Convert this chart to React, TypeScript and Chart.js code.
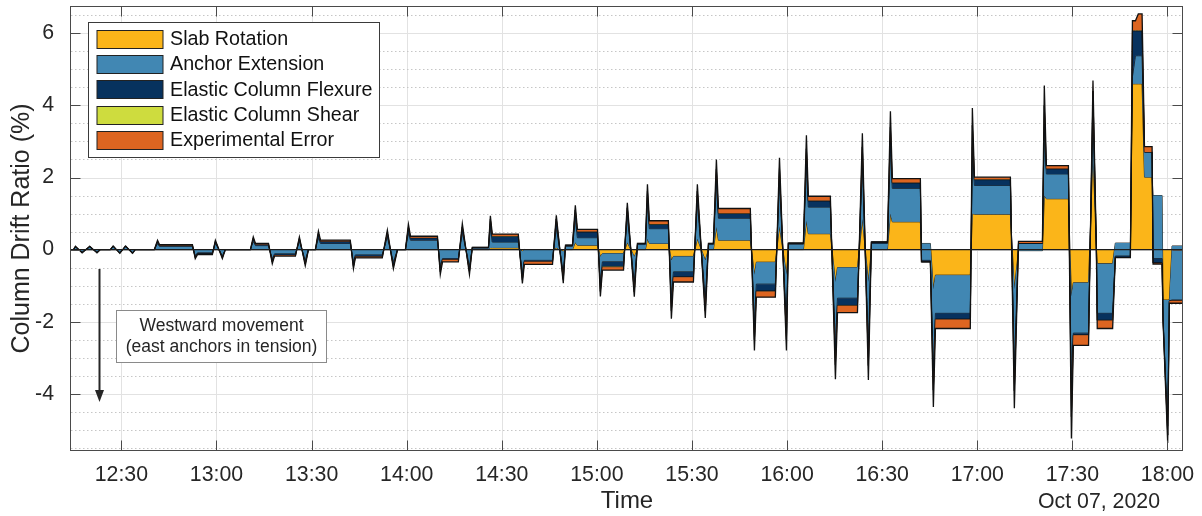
import React, { useEffect, useRef } from 'react';
import { Chart, registerables } from 'chart.js';

Chart.register(...registerables);

const FONT = '"Liberation Sans", Arial, Helvetica, sans-serif';
const TEXT = '#262626';

// ---- series names / colours (bottom to top of the stack) ----
const seriesNames = ['Slab Rotation', 'Anchor Extension', 'Elastic Column Flexure', 'Elastic Column Shear', 'Experimental Error'];
const seriesColors = ['#FBB519', '#4187B3', '#07325E', '#CEDC3E', '#DD6521'];

// ---- axes ----
const xTickLabels = ['12:30', '13:00', '13:30', '14:00', '14:30', '15:00', '15:30', '16:00', '16:30', '17:00', '17:30', '18:00'];
const yTickValues = [-4, -2, 0, 2, 4, 6];
const yMinorValues = [-5.5, -5, -4.5, -3.5, -3, -2.5, -1.5, -1, -0.5, 0.5, 1, 1.5, 2.5, 3, 3.5, 4.5, 5, 5.5, 6.5];
const xRange = [14.1, 364.9]; // minutes after 12:00
const yRange = [-5.59, 6.76];
const dateLabel = 'Oct 07, 2020';
const xTitle = 'Time';
const yTitle = 'Column Drift Ratio (%)';
const noteLines = ['Westward movement', '(east anchors in tension)'];

// ---- data: time in minutes after 12:00, contributions in % drift ----
const times = [
  14.1, 14.9, 15.5, 17.6, 20.0, 22.3, 23.4, 26.5, 27.4, 29.5, 31.3, 33.5, 34.4,
  40.4, 41.4, 42.0, 52.4, 53.3, 54.0, 58.7, 59.65, 61.85, 62.8,
  70.7, 71.6, 72.3, 76.4, 77.6, 78.3, 84.9, 86.15, 88.0, 89.0,
  91.2, 92.15, 92.8, 102.2, 103.2, 103.8, 112.3, 113.9, 115.8, 117.1,
  119.6, 120.55, 121.2, 129.7, 130.6, 131.3, 136.3, 137.55, 139.8, 140.7, 145.8,
  146.4, 147.0, 155.2, 156.5, 157.1, 166.0, 167.2, 169.4, 170.1, 172.3,
  173.2, 173.85, 180.2, 181.1, 181.75, 188.4, 189.6, 191.8, 192.8, 195.3,
  195.95, 196.55, 202.55, 203.5, 204.15, 210.45, 211.7, 214.2, 215.2, 216.75,
  217.7, 218.35, 228.4, 229.7, 230.3, 236.3, 237.6, 239.8, 240.4, 245.15,
  246.1, 246.7, 253.65, 255.25, 255.9, 262.2, 263.75, 265.65, 266.6, 271.65,
  272.6, 273.2, 282.05, 282.4, 285.2, 286.15, 286.8, 297.8, 298.45, 299.1, 310.45, 311.7, 313.0, 320.55,
  321.15, 321.8, 328.75, 329.7, 330.3, 335.1, 336.5, 337.55, 337.85, 342.7, 343.55, 348.3,
  348.95, 349.9, 350.8, 351.99, 352.75, 355.15, 355.45, 358.3, 358.6, 360.07, 360.6, 361.45, 365.65,
];

const slabRotation = [
  0, 0, 0, 0, 0, 0, 0, 0, 0, 0, 0, 0, 0,
  0, 0, 0, 0, 0, 0, 0, 0, 0, 0,
  0, 0, 0, 0, 0, 0, 0, 0, 0, 0,
  0, 0, 0, 0, 0, 0, 0, 0, 0, 0,
  0, 0, 0, 0, 0, 0, 0, 0, 0, 0, 0,
  0.05, 0.05, 0.05, -0.05, 0, 0, 0.05, -0.05, 0, 0,
  0.20, 0.12, 0.12, -0.20, -0.11, -0.11, 0.20, -0.20, 0, 0,
  0.30, 0.17, 0.17, -0.30, -0.19, -0.19, 0.30, -0.30, 0, 0,
  0.63, 0.26, 0.26, -0.70, -0.35, -0.35, 0.65, -0.70, 0, 0,
  0.80, 0.44, 0.44, -0.90, -0.50, -0.50, 0.85, -0.90, 0, 0,
  1.00, 0.77, 0.77, 0.17, 0.17, -1.10, -0.71, -0.71, 1.00, 0.98, 0.98, -1.10, -0.03, -0.03,
  1.50, 1.41, 1.41, -1.30, -0.92, -0.92, 2.70, 0.10, -0.39, -0.39, 0.18, 0.18,
  4.60, 4.60, 4.60, 4.60, 2.01, 2.01, 1.50, 1.50, -1.40, -1.40, -1.40, 0.10, 0.10,
];

const anchorExtension = [
  0, 0, 0.07, -0.07, 0.07, -0.07, 0, 0, 0.08, -0.08, 0.08, -0.08, 0,
  0, 0.17, 0.09, 0.09, -0.17, -0.09, -0.09, 0.17, -0.17, 0,
  0, 0.23, 0.11, 0.11, -0.26, -0.12, -0.12, 0.23, -0.30, 0,
  0, 0.33, 0.17, 0.17, -0.35, -0.15, -0.15, 0.35, -0.35, 0,
  0, 0.46, 0.26, 0.26, -0.46, -0.25, -0.25, 0.47, -0.46, 0.04, 0.04,
  0.55, 0.16, 0.16, -0.60, -0.30, -0.30, 0.56, -0.60, 0.09, 0.09,
  0.65, 0.21, 0.21, -0.70, -0.23, -0.23, 0.70, -0.70, 0.14, 0.14,
  1.00, 0.41, 0.41, -1.05, -0.43, -0.43, 1.00, -1.05, 0.14, 0.14,
  1.20, 0.61, 0.61, -1.35, -0.61, -0.61, 1.22, -1.35, 0.15, 0.15,
  1.50, 0.74, 0.74, -1.75, -0.85, -0.85, 1.50, -1.77, 0.17, 0.17,
  1.80, 0.93, 0.93, -0.47, -0.47, -2.20, -1.06, -1.06, 1.85, 0.80, 0.80, -2.20, 0.20, 0.20,
  1.90, 0.69, 0.69, -2.60, -1.40, -1.40, 1.30, 0, -1.38, -1.38, -0.36, -0.36,
  0.20, 0.78, 0.78, 0.78, 0.70, 0.70, -1.75, -1.75, -0.50, -3.50, -0.02, -1.50, -1.50,
];

const columnFlexure = [
  0, 0, 0.02, -0.02, 0.02, -0.02, 0, 0, 0.02, -0.02, 0.02, -0.02, 0,
  0, 0.06, 0.03, 0.03, -0.05, -0.03, -0.03, 0.06, -0.05, 0,
  0, 0.08, 0.04, 0.04, -0.08, -0.04, -0.04, 0.08, -0.10, 0,
  0, 0.12, 0.06, 0.06, -0.12, -0.05, -0.05, 0.12, -0.12, 0,
  0, 0.16, 0.07, 0.07, -0.15, -0.03, -0.03, 0.16, -0.15, 0.02, 0.02,
  0.24, 0.16, 0.16, -0.19, -0.04, -0.04, 0.24, -0.18, 0.03, 0.03,
  0.25, 0.16, 0.16, -0.26, -0.14, -0.14, 0.26, -0.27, 0.03, 0.03,
  0.32, 0.12, 0.12, -0.35, -0.14, -0.14, 0.32, -0.35, 0.03, 0.03,
  0.40, 0.13, 0.13, -0.45, -0.19, -0.19, 0.40, -0.45, 0.03, 0.03,
  0.50, 0.17, 0.17, -0.55, -0.20, -0.20, 0.50, -0.55, 0.04, 0.04,
  0.60, 0.15, 0.15, -0.04, -0.04, -0.60, -0.16, -0.16, 0.60, 0.16, 0.16, -0.62, 0.01, 0.01,
  0.60, 0.14, 0.14, -0.74, -0.05, -0.05, 0.40, 0, -0.19, -0.19, -0.04, -0.04,
  1.27, 0.69, 0.69, 0.69, 0, 0, -0.12, -0.12, -0.05, -0.25, -0.01, -0.02, -0.02,
];

const columnShear = [
  0, 0, 0, 0, 0, 0, 0, 0, 0, 0, 0, 0, 0,
  0, 0, 0, 0, 0, 0, 0, 0, 0, 0,
  0, 0, 0, 0, 0, 0, 0, 0, 0, 0,
  0, 0, 0, 0, 0, 0, 0, 0, 0, 0,
  0, 0, 0, 0, 0, 0, 0, 0, 0, 0, 0,
  0, 0.01, 0.01, 0, 0, 0, 0, 0, 0, 0,
  0, 0.01, 0.01, 0, -0.01, -0.01, 0, 0, 0, 0,
  0, 0.01, 0.01, 0, -0.01, -0.01, 0, 0, 0, 0,
  0, 0.01, 0.01, 0, -0.01, -0.01, 0, 0, 0, 0,
  0, 0.01, 0.01, 0, -0.01, -0.01, 0, 0, 0, 0,
  0, 0.01, 0.01, 0, 0, 0, -0.01, -0.01, 0, 0.01, 0.01, 0, 0, 0,
  0, 0.01, 0.01, 0, -0.01, -0.01, 0, 0, -0.01, -0.01, 0, 0,
  0.02, 0.02, 0.02, 0.02, 0, 0, 0, 0, 0, 0, 0, 0, 0,
];

const experimentalError = [
  0, 0, 0, 0, 0, 0, 0, 0, 0, 0, 0, 0, 0,
  0, 0.03, 0.02, 0.02, -0.03, -0.02, -0.02, 0.03, -0.03, 0,
  0, 0.04, 0.02, 0.02, -0.05, -0.02, -0.02, 0.04, -0.05, 0,
  0, 0.06, 0.03, 0.03, -0.06, -0.03, -0.03, 0.07, -0.06, 0,
  0, 0.08, 0.04, 0.04, -0.08, -0.06, -0.06, 0.09, -0.08, 0, 0,
  0.10, 0.05, 0.05, -0.10, -0.07, -0.07, 0.10, -0.10, 0, 0,
  0.13, 0.06, 0.06, -0.14, -0.08, -0.08, 0.14, -0.14, 0, 0,
  0.19, 0.09, 0.09, -0.22, -0.13, -0.13, 0.19, -0.20, 0, 0,
  0.27, 0.13, 0.13, -0.30, -0.16, -0.16, 0.28, -0.30, 0, 0,
  0.37, 0.12, 0.12, -0.40, -0.19, -0.19, 0.38, -0.40, 0, 0,
  0.44, 0.11, 0.11, 0, 0, -0.47, -0.25, -0.25, 0.48, 0.06, 0.06, -0.48, 0.05, 0.05,
  0.55, 0.08, 0.08, -0.60, -0.28, -0.28, 0.29, 0, -0.22, -0.22, 0, 0,
  0.26, 0.26, 0.45, 0.45, 0.15, 0.15, -0.03, -0.03, -0.02, -0.22, -0.06, -0.07, -0.07,
];

const components = [slabRotation, anchorExtension, columnFlexure, columnShear, experimentalError];

function toMinutes(label: string) {
  const [h, m] = label.split(':').map(Number);
  return (h - 12) * 60 + m;
}
const xTickValues = xTickLabels.map(toMinutes);

// cumulative (area-style) stacking, layer by layer, like MATLAB area()
function buildCumulative() {
  let running = times.map(() => 0);
  return components.map((arr) => {
    running = running.map((v, i) => v + arr[i]);
    return running;
  });
}

const decorPlugin = {
  id: 'decor',
  beforeDatasetsDraw(chart: any) {
    const { ctx, chartArea: a, scales } = chart;
    const x = scales.x, y = scales.y;
    ctx.save();
    ctx.lineWidth = 1;
    ctx.strokeStyle = '#e2e2e2';
    ctx.beginPath();
    xTickValues.forEach((t) => {
      const px = Math.round(x.getPixelForValue(t)) + 0.5;
      ctx.moveTo(px, a.top);
      ctx.lineTo(px, a.bottom);
    });
    yTickValues.forEach((v) => {
      const py = Math.round(y.getPixelForValue(v)) + 0.5;
      ctx.moveTo(a.left, py);
      ctx.lineTo(a.right, py);
    });
    ctx.stroke();
    ctx.setLineDash([1.5, 2.5]);
    ctx.strokeStyle = '#c6c6c6';
    ctx.beginPath();
    yMinorValues.forEach((v) => {
      const py = Math.round(y.getPixelForValue(v)) + 0.5;
      ctx.moveTo(a.left, py);
      ctx.lineTo(a.right, py);
    });
    ctx.stroke();
    ctx.restore();
  },
  afterDatasetsDraw(chart: any) {
    const { ctx, chartArea: a, scales } = chart;
    const x = scales.x, y = scales.y;
    ctx.save();
    // zero baseline
    const y0 = y.getPixelForValue(0);
    ctx.strokeStyle = '#1c1c1c';
    ctx.lineWidth = 1.2;
    ctx.beginPath();
    ctx.moveTo(a.left, y0);
    ctx.lineTo(a.right, y0);
    ctx.stroke();
    // axes box
    const L = Math.round(a.left) - 0.5, R = Math.round(a.right) - 0.5;
    const T = Math.round(a.top) + 0.5, B = Math.round(a.bottom) - 0.5;
    ctx.strokeStyle = '#4a4a4a';
    ctx.lineWidth = 1;
    ctx.strokeRect(L, T, R - L, B - T);
    // inward ticks
    const tl = 10;
    ctx.beginPath();
    xTickValues.forEach((t) => {
      const px = Math.round(x.getPixelForValue(t)) + 0.5;
      ctx.moveTo(px, B); ctx.lineTo(px, B - tl);
      ctx.moveTo(px, T); ctx.lineTo(px, T + tl);
    });
    yTickValues.forEach((v) => {
      const py = Math.round(y.getPixelForValue(v)) + 0.5;
      ctx.moveTo(L, py); ctx.lineTo(L + tl, py);
      ctx.moveTo(R, py); ctx.lineTo(R - tl, py);
    });
    ctx.stroke();
    ctx.restore();
  },
  afterDraw(chart: any) {
    const { ctx, chartArea: a } = chart;
    ctx.save();
    // legend
    const bx = Math.round(a.left + 17) + 0.5, by = Math.round(a.top + 16) + 0.5;
    const bw = 291, bh = 135;
    ctx.fillStyle = '#ffffff';
    ctx.fillRect(bx, by, bw, bh);
    ctx.strokeStyle = '#3a3a3a';
    ctx.lineWidth = 1;
    ctx.strokeRect(bx, by, bw, bh);
    ctx.font = `19.7px ${FONT}`;
    ctx.textBaseline = 'middle';
    ctx.textAlign = 'left';
    seriesNames.forEach((name, i) => {
      const cy = by + 16 + i * 25.35;
      const sy = Math.round(cy - 9) + 0.5;
      ctx.fillStyle = seriesColors[i];
      ctx.fillRect(bx + 8.5, sy, 66, 18);
      ctx.strokeStyle = '#222';
      ctx.strokeRect(bx + 8.5, sy, 66, 18);
      ctx.fillStyle = '#111';
      ctx.fillText(name, bx + 81.5, cy + 1);
    });
    // note box
    const nx = 116.5, ny = 310.5, nw = 210, nh = 52;
    ctx.fillStyle = '#ffffff';
    ctx.fillRect(nx, ny, nw, nh);
    ctx.strokeStyle = '#8a8a8a';
    ctx.strokeRect(nx, ny, nw, nh);
    ctx.fillStyle = TEXT;
    ctx.font = `17.5px ${FONT}`;
    ctx.textAlign = 'center';
    ctx.fillText(noteLines[0], nx + nw / 2, 326);
    ctx.fillText(noteLines[1], nx + nw / 2, 347);
    // arrow
    ctx.strokeStyle = '#262626';
    ctx.fillStyle = '#262626';
    ctx.lineWidth = 2;
    ctx.beginPath();
    ctx.moveTo(99.5, 269);
    ctx.lineTo(99.5, 392);
    ctx.stroke();
    ctx.beginPath();
    ctx.moveTo(99.5, 402);
    ctx.lineTo(95, 390);
    ctx.lineTo(104, 390);
    ctx.closePath();
    ctx.fill();
    // date label
    ctx.fillStyle = TEXT;
    ctx.font = `21.3px ${FONT}`;
    ctx.textAlign = 'center';
    ctx.textBaseline = 'middle';
    ctx.fillText(dateLabel, 1099, 502);
    ctx.restore();
  },
};

export default function App() {
  const ref = useRef<HTMLCanvasElement | null>(null);

  useEffect(() => {
    if (!ref.current) return;
    const cumulative = buildCumulative();
    const datasets = seriesNames.map((name, i) => ({
      label: name,
      data: times.map((t, k) => ({ x: t, y: cumulative[i][k] })),
      backgroundColor: seriesColors[i],
      borderColor: '#111111',
      borderWidth: i === 4 ? 1.3 : 0.9,
      fill: i === 0 ? 'origin' : '-1',
      pointRadius: 0,
      pointHoverRadius: 0,
      tension: 0,
      order: 4 - i,
    }));

    const chart = new Chart(ref.current, {
      type: 'line',
      data: { datasets },
      options: {
        animation: false,
        responsive: false,
        maintainAspectRatio: false,
        events: [],
        layout: { padding: { left: 0, right: 19, top: 6, bottom: 0 } },
        plugins: { legend: { display: false }, tooltip: { enabled: false } },
        scales: {
          x: {
            type: 'linear',
            min: xRange[0],
            max: xRange[1],
            grid: { display: false },
            border: { display: false },
            afterBuildTicks: (axis: any) => {
              axis.ticks = xTickValues.map((v) => ({ value: v }));
            },
            afterFit: (axis: any) => {
              axis.height = 65;
              axis.paddingLeft = 0; axis.paddingRight = 0; axis.paddingTop = 0; axis.paddingBottom = 0;
            },
            ticks: {
              autoSkip: false,
              maxRotation: 0,
              padding: 3,
              color: TEXT,
              font: { family: FONT, size: 21.3 },
              callback: (_v: any, i: number) => xTickLabels[i],
            },
            title: {
              display: true,
              text: xTitle,
              color: TEXT,
              font: { family: FONT, size: 24 },
              padding: { top: 0, bottom: 0 },
            },
          },
          y: {
            type: 'linear',
            min: yRange[0],
            max: yRange[1],
            grid: { display: false },
            border: { display: false },
            afterBuildTicks: (axis: any) => {
              axis.ticks = yTickValues.map((v) => ({ value: v }));
            },
            afterFit: (axis: any) => {
              axis.width = 71;
              axis.paddingLeft = 0; axis.paddingRight = 0; axis.paddingTop = 0; axis.paddingBottom = 0;
            },
            ticks: {
              padding: 9,
              color: TEXT,
              font: { family: FONT, size: 21.3 },
              callback: (v: any) => String(v),
            },
            title: {
              display: true,
              text: yTitle,
              color: TEXT,
              font: { family: FONT, size: 25 },
              padding: { top: 7, bottom: 0 },
            },
          },
        },
      },
      plugins: [decorPlugin],
    } as any);

    return () => chart.destroy();
  }, []);

  return (
    <div style={{ position: 'fixed', left: 0, top: 0, width: 1202, height: 516, background: '#ffffff' }}>
      <canvas ref={ref} width={1202} height={516} style={{ display: 'block' }} />
    </div>
  );
}
